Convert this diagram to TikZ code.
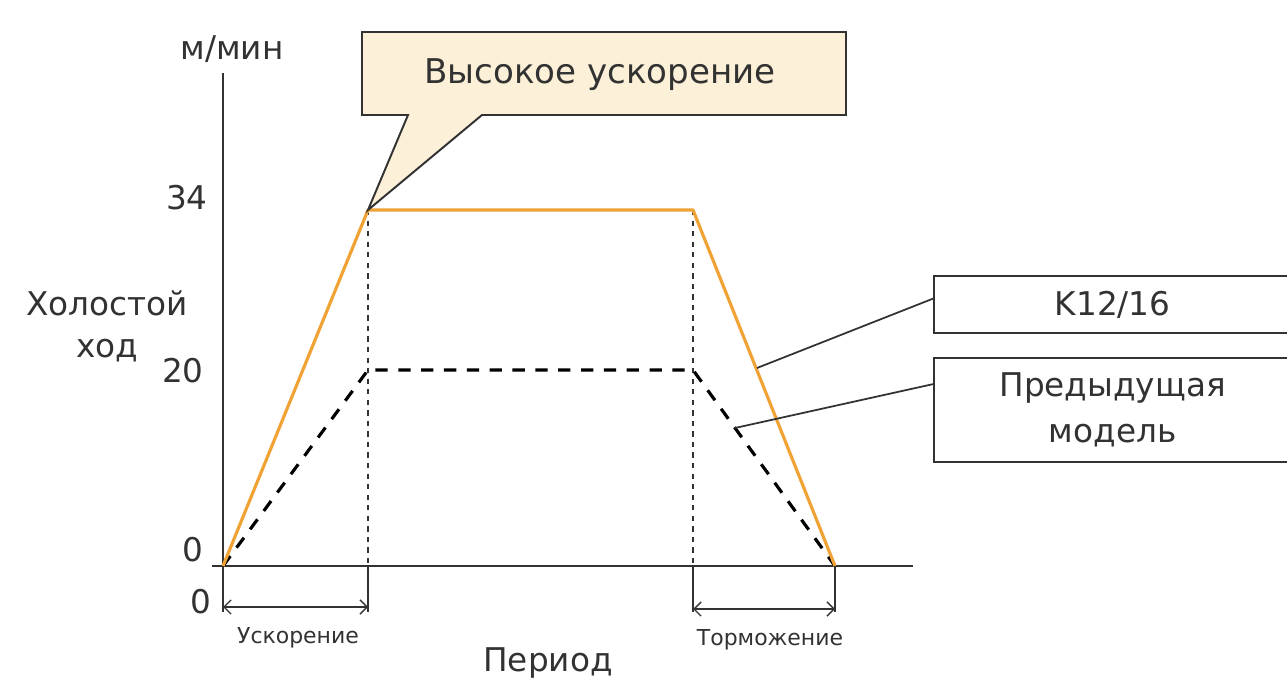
\documentclass[tikz,border=0pt]{standalone}
\usepackage{fontspec}
\setmainfont{DejaVu Sans}
\usepackage{tikz}
\usetikzlibrary{arrows.meta, positioning}
\definecolor{ink}{RGB}{50,50,50}
\definecolor{orangeline}{RGB}{240,162,52}
\definecolor{callfill}{RGB}{252,241,216}
\tikzstyle{fast} = [line width=1.8pt, orangeline, line join=round]
\tikzstyle{old} = [line width=1.8pt, black, dash pattern=on 7pt off 6pt, line join=round]
\tikzstyle{guide} = [line width=0.8pt, ink, dash pattern=on 3pt off 3pt]
\tikzstyle{axis} = [line width=1.1pt, ink]
\tikzstyle{span} = [line width=0.8pt, ink, {Straight Barb[length=4pt]}-{Straight Barb[length=4pt]}]
\tikzstyle{lead} = [line width=1pt, ink]
\tikzstyle{txt} = [text=ink, font=\fontsize{18.6}{24}\selectfont, inner sep=0pt, align=center]
\tikzstyle{small} = [text=ink, font=\fontsize{12.5}{14}\selectfont, inner sep=0pt]
\tikzstyle{legend} = [rectangle, draw=ink, line width=1.3pt, fill=white, minimum width=7.14cm, align=center, text=ink, font=\fontsize{18.6}{26}\selectfont]

\begin{document}
\begin{tikzpicture}[x=0.02cm, y=-0.02cm]
\useasboundingbox (0,0) rectangle (1287,678);

% axes
\coordinate (ytop) at (223,73);
\coordinate (ybot) at (223,612);
\coordinate (xl) at (212,566);
\coordinate (xr) at (913,566);
\coordinate (o) at (223,566);
\draw [axis] (ytop) -- (ybot);
\draw [axis] (xl) -- (xr);

% speed curves
\coordinate (f1) at (368,210);
\coordinate (f2) at (693,210);
\coordinate (fend) at (835,566);
\coordinate (p1) at (368,370);
\coordinate (p2) at (693,370);

\coordinate (f1x) at (368,566);
\coordinate (f2x) at (693,566);
\coordinate (f1b) at (368,612);
\coordinate (f2b) at (693,612);
\coordinate (fendb) at (835,612);

\draw [guide] (f1) -- (f1x);
\draw [guide] (f2) -- (f2x);
\draw [axis] (f1x) -- (f1b);
\draw [axis] (f2x) -- (f2b);
\draw [axis] (fend) -- (fendb);

\draw [old] (o) -- (p1) -- (p2) -- (fend);
\draw [fast] (o) -- (f1) -- (f2) -- (fend);

% spans
\coordinate (s1) at (223,607);
\coordinate (s2) at (368,607);
\coordinate (s3) at (693,609);
\coordinate (s4) at (835,609);
\draw [span] (s1) -- (s2);
\draw [span] (s3) -- (s4);
\node [small] (acc) at (298,638) {Ускорение};
\node [small] (dec) at (770,640) {Торможение};
\node [txt] (period) at (548,663) {Период};

% axis labels
\node [txt] (unit) at (232,49) {м/мин};
\node [txt, anchor=east] (v34) at (208,198) {34};
\node [txt, anchor=east] (v20) at (204,371) {20};
\node [txt, anchor=east] (v0) at (204,550) {0};
\node [txt, anchor=east] (t0) at (212,602) {0};
\node [txt] (idle) at (107,326) {Холостой\\ход};

% callout
\filldraw [fill=callfill, draw=ink, line width=1.1pt, line join=miter] (362,32) -- (846,32) -- (846,115) -- (482,115) -- (f1) -- (408,115) -- (362,115) -- cycle;
\node [txt, font=\fontsize{19.4}{24}\selectfont] (high) at (600,75) {Высокое ускорение};

% legend boxes
\node [legend, anchor=north west, minimum height=1.14cm] (k12) at (933,275) {K12/16};
\node [legend, anchor=north west, minimum height=2.08cm] (prev) at (933,357) {Предыдущая\\модель};
\coordinate (k12pt) at (757,368);
\coordinate (prevpt) at (735,428);
\draw [lead] (k12.west) ++(0,-6) -- (k12pt);
\draw [lead] (prev.west) ++(0,-26) -- (prevpt);
\end{tikzpicture}
\end{document}
